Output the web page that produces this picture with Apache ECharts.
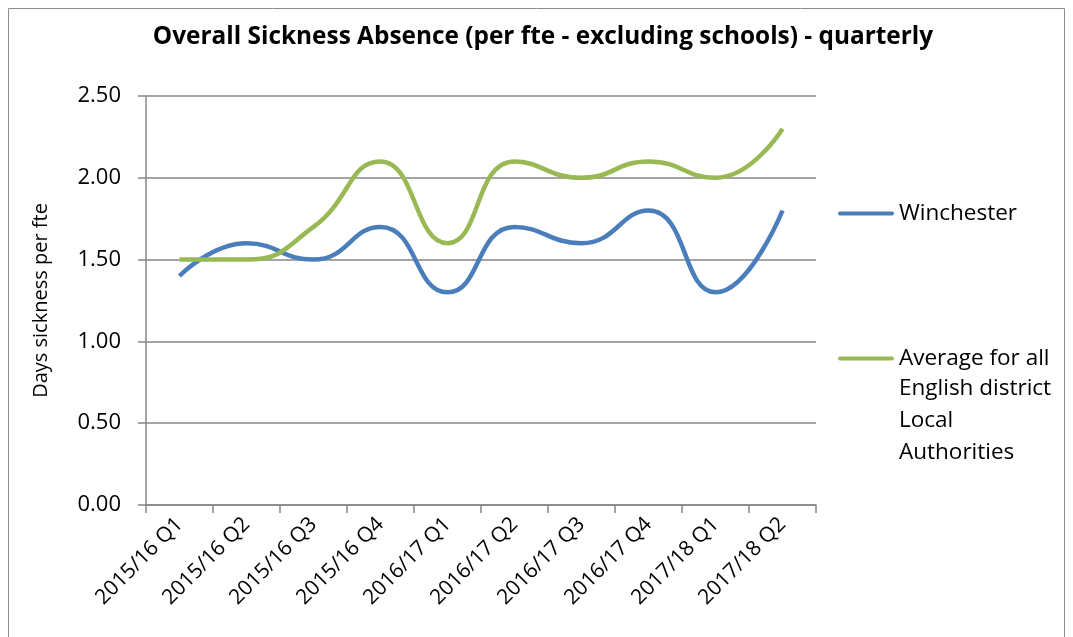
<!DOCTYPE html>
<html>
<head>
<meta charset="utf-8">
<script src="https://cdn.jsdelivr.net/npm/echarts@6/dist/echarts.min.js"></script>
<style>
  html, body { margin: 0; padding: 0; background: #fff; }
  #chart { width: 1073px; height: 637px; }
</style>
</head>
<body>
<div id="chart"></div>
<script>
// quarters on the x axis
const quarters = [
  "2015/16 Q1", "2015/16 Q2", "2015/16 Q3", "2015/16 Q4",
  "2016/17 Q1", "2016/17 Q2", "2016/17 Q3", "2016/17 Q4",
  "2017/18 Q1", "2017/18 Q2"
];
const winchester = [1.4, 1.6, 1.5, 1.7, 1.3, 1.7, 1.6, 1.8, 1.3, 1.8];
const districtAvg = [1.5, 1.5, 1.7, 2.1, 1.6, 2.1, 2.0, 2.1, 2.0, 2.3];

const avgName = "Average for all English district Local Authorities";
const font = "'Open Sans', sans-serif";
const axisGrey = "#868686";
// rounded bar used as legend marker
const legendIcon = "path://M2,8 L54,8 A2,2 0 0 1 54,12 L2,12 A2,2 0 0 1 2,8 Z";

const chart = echarts.init(document.getElementById("chart"));

const option = {
  animation: false,
  title: {
    text: "Overall Sickness Absence (per fte - excluding schools) - quarterly",
    left: 538,
    textAlign: "center",
    top: 20,
    textStyle: { fontFamily: font, fontSize: 24.4, fontWeight: "bold", color: "#000" }
  },
  graphic: [
    {
      type: "rect",
      shape: { x: 8.5, y: 8.5, width: 1056, height: 640 },
      style: { fill: "none", stroke: "#8c8c8c", lineWidth: 1 }
    },
    {
      // rest of the long legend label, under its first line
      type: "text",
      left: 899,
      top: 373,
      style: {
        text: "English district\nLocal\nAuthorities",
        fontFamily: font,
        fontSize: 22.5,
        lineHeight: 32,
        fill: "#000"
      }
    }
  ],
  legend: [
    {
      data: ["Winchester"],
      left: 838,
      top: 202,
      padding: 0,
      itemWidth: 56,
      itemHeight: 20,
      icon: legendIcon,
      textStyle: { fontFamily: font, fontSize: 22.5, color: "#000" }
    },
    {
      data: [avgName],
      left: 838,
      top: 347,
      padding: 0,
      itemWidth: 56,
      itemHeight: 20,
      icon: legendIcon,
      formatter: () => "Average for all",
      textStyle: { fontFamily: font, fontSize: 22.5, color: "#000" }
    }
  ],
  grid: { left: 146, right: 257, top: 96, bottom: 132 },
  xAxis: {
    type: "category",
    data: quarters,
    boundaryGap: true,
    axisLine: { lineStyle: { color: axisGrey, width: 1.5 } },
    axisTick: { show: true, length: 8, lineStyle: { color: axisGrey, width: 1.5 } },
    axisLabel: {
      rotate: 45,
      interval: 0,
      margin: 16,
      fontFamily: font,
      fontSize: 21,
      color: "#000"
    }
  },
  yAxis: {
    type: "value",
    min: 0,
    max: 2.5,
    interval: 0.5,
    name: "Days sickness per fte",
    nameLocation: "middle",
    nameGap: 95,
    nameRotate: 90,
    nameTextStyle: { fontFamily: font, fontSize: 20, color: "#000" },
    axisLine: { show: true, lineStyle: { color: axisGrey, width: 1.5 } },
    axisTick: { show: true, length: 8, lineStyle: { color: axisGrey, width: 1.5 } },
    axisLabel: {
      margin: 25,
      formatter: v => v.toFixed(2),
      fontFamily: font,
      fontSize: 22,
      color: "#000"
    },
    splitLine: { lineStyle: { color: axisGrey, width: 1.5 } }
  },
  series: [
    {
      name: "Winchester",
      type: "line",
      data: winchester,
      smooth: 0.5,
      showSymbol: false,
      lineStyle: { width: 4.5, color: "#4a7ebb" },
      itemStyle: { color: "#4a7ebb" }
    },
    {
      name: avgName,
      type: "line",
      data: districtAvg,
      smooth: 0.5,
      showSymbol: false,
      lineStyle: { width: 4.5, color: "#98b954" },
      itemStyle: { color: "#98b954" }
    }
  ]
};

chart.setOption(option);
</script>
</body>
</html>
